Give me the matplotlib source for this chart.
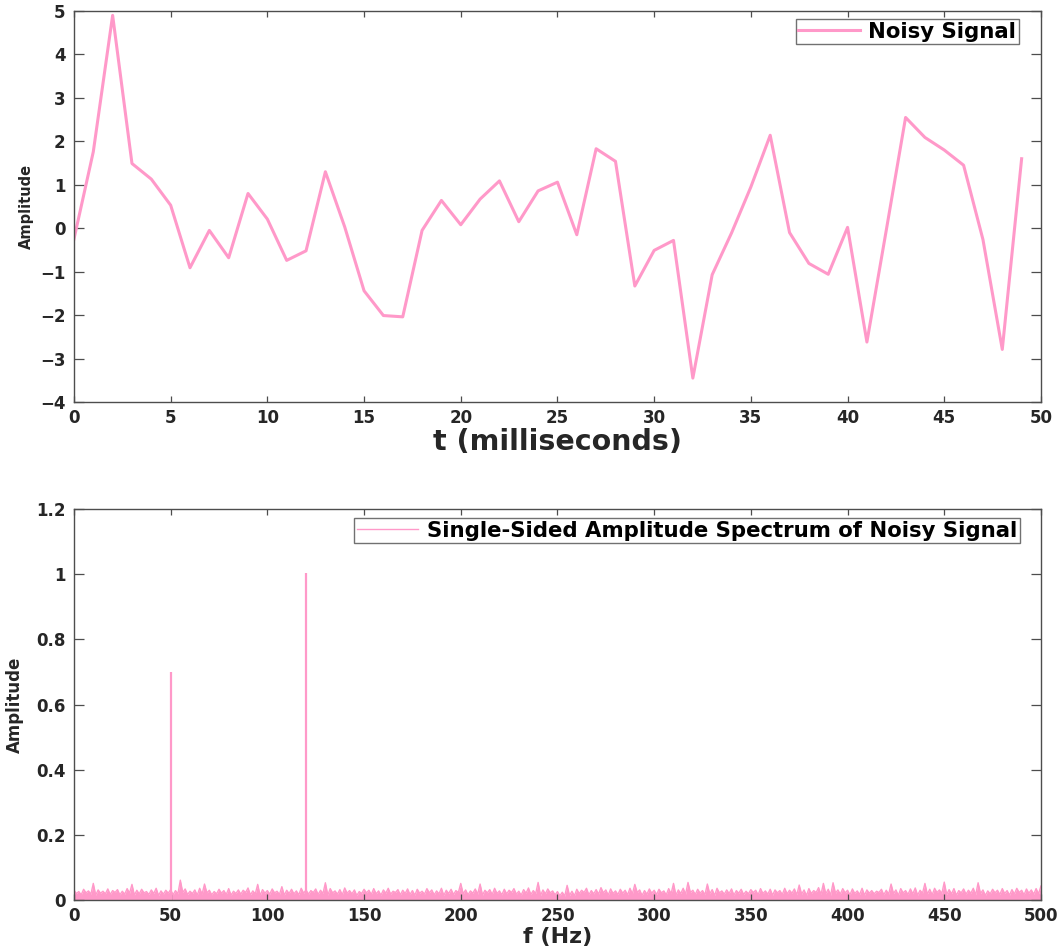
import numpy as np
import matplotlib
matplotlib.use("Agg")
import matplotlib.pyplot as plt

plt.rcParams["font.family"] = ["DejaVu Sans"]
plt.rcParams["font.weight"] = "bold"

PINK = "#ff99c9"
DARK = "#262626"
SPINE = "#4d4d4d"

# ---- time-domain samples (first 50 ms) ----
t_ms = list(range(50))
signal = [
    -0.25, 1.76, 4.90, 1.49, 1.13, 0.53, -0.91, -0.05, -0.68, 0.80,
    0.21, -0.74, -0.52, 1.30, 0.03, -1.44, -2.01, -2.04, -0.05, 0.64,
    0.08, 0.67, 1.09, 0.15, 0.86, 1.06, -0.15, 1.83, 1.54, -1.33,
    -0.51, -0.28, -3.45, -1.07, -0.11, 0.95, 2.14, -0.10, -0.81, -1.06,
    0.02, -2.62, -0.05, 2.55, 2.09, 1.80, 1.45, -0.26, -2.79, 1.60,
]

# ---- single-sided spectrum ----
spec_step = 2.5  # Hz between successive local maxima of the noise floor
noise_peak = [
    0.030, 0.026, 0.033, 0.028, 0.051, 0.031, 0.027, 0.034, 0.029, 0.032,
    0.027, 0.035, 0.048, 0.030, 0.033, 0.026, 0.031, 0.036, 0.028, 0.030,
    0.032, 0.029, 0.061, 0.034, 0.027, 0.031, 0.036, 0.049, 0.030, 0.026,
    0.033, 0.029, 0.035, 0.027, 0.031, 0.030, 0.037, 0.028, 0.048, 0.032,
    0.029, 0.034, 0.027, 0.041, 0.030, 0.033, 0.028, 0.036, 0.031, 0.029,
    0.034, 0.030, 0.053, 0.035, 0.028, 0.032, 0.037, 0.029, 0.031, 0.026,
    0.033, 0.030, 0.035, 0.028, 0.031, 0.036, 0.027, 0.032, 0.030, 0.034,
    0.029, 0.033, 0.027, 0.035, 0.031, 0.028, 0.036, 0.030, 0.033, 0.029,
    0.051, 0.031, 0.028, 0.034, 0.049, 0.030, 0.032, 0.036, 0.028, 0.033,
    0.030, 0.035, 0.027, 0.032, 0.037, 0.029, 0.054, 0.031, 0.034, 0.028,
    0.026, 0.024, 0.045, 0.027, 0.033, 0.030, 0.036, 0.029, 0.032, 0.038,
    0.031, 0.034, 0.028, 0.033, 0.030, 0.036, 0.048, 0.031, 0.029, 0.034,
    0.030, 0.033, 0.028, 0.035, 0.051, 0.031, 0.036, 0.054, 0.030, 0.033,
    0.029, 0.049, 0.032, 0.036, 0.028, 0.031, 0.034, 0.029, 0.033, 0.027,
    0.032, 0.030, 0.035, 0.028, 0.033, 0.031, 0.029, 0.036, 0.030, 0.034,
    0.046, 0.031, 0.035, 0.029, 0.038, 0.051, 0.033, 0.053, 0.031, 0.035,
    0.030, 0.034, 0.028, 0.036, 0.031, 0.029, 0.027, 0.033, 0.030, 0.049,
    0.031, 0.035, 0.029, 0.034, 0.037, 0.030, 0.051, 0.033, 0.036, 0.031,
    0.055, 0.032, 0.035, 0.029, 0.034, 0.030, 0.036, 0.053, 0.031, 0.028,
    0.033, 0.030, 0.035, 0.029, 0.032, 0.036, 0.030, 0.034, 0.031, 0.035,
    0.043,
]
noise_valley = [
    0.020, 0.016, 0.022, 0.018, 0.015, 0.021, 0.019, 0.017, 0.023, 0.016,
    0.018, 0.021, 0.015, 0.019, 0.022, 0.017, 0.020, 0.014, 0.018, 0.021,
    0.016, 0.019, 0.023, 0.017, 0.020, 0.015, 0.018, 0.022, 0.016, 0.019,
    0.021, 0.017, 0.015, 0.020, 0.018, 0.023, 0.016, 0.019, 0.014, 0.021,
    0.018, 0.022, 0.017, 0.015, 0.020, 0.019, 0.016, 0.021, 0.018, 0.023,
    0.017, 0.020, 0.015, 0.022, 0.018, 0.016, 0.021, 0.019, 0.014, 0.020,
    0.022, 0.017, 0.019, 0.015, 0.021, 0.018, 0.023, 0.016, 0.020, 0.017,
    0.015, 0.021, 0.018, 0.022, 0.016, 0.019, 0.014, 0.020, 0.017, 0.023,
    0.019, 0.016, 0.021, 0.018, 0.015, 0.022, 0.017, 0.020, 0.016, 0.019,
    0.023, 0.018, 0.015, 0.021, 0.017, 0.020, 0.014, 0.019, 0.022, 0.016,
    0.013, 0.012, 0.014, 0.013, 0.020, 0.023, 0.016, 0.019, 0.018, 0.022,
    0.015, 0.020, 0.017, 0.021, 0.016, 0.019, 0.023, 0.014, 0.018, 0.021,
    0.017, 0.022, 0.016, 0.019, 0.015, 0.020, 0.018, 0.023, 0.017, 0.021,
    0.016, 0.019, 0.014, 0.022, 0.018, 0.020, 0.015, 0.021, 0.017, 0.019,
    0.023, 0.016, 0.020, 0.018, 0.015, 0.022, 0.017, 0.019, 0.021, 0.016,
    0.018, 0.014, 0.020, 0.023, 0.017, 0.019, 0.015, 0.021, 0.018, 0.022,
    0.016, 0.020, 0.017, 0.015, 0.021, 0.019, 0.023, 0.016, 0.018, 0.020,
    0.014, 0.022, 0.017, 0.019, 0.015, 0.021, 0.018, 0.016, 0.023, 0.020,
    0.017, 0.019, 0.015, 0.022, 0.018, 0.021, 0.016, 0.020, 0.014, 0.019,
    0.022, 0.017, 0.020, 0.015, 0.018, 0.023, 0.016, 0.021, 0.018, 0.019,
]
tone_freqs = [50, 120]
tone_amps = [0.70, 1.005]

top_ticks_x = list(range(0, 51, 5))
top_ticks_y = list(range(-4, 6))
bot_ticks_x = list(range(0, 501, 50))
bot_ticks_y = [0, 0.2, 0.4, 0.6, 0.8, 1.0, 1.2]
bot_tick_labels_y = ["0", "0.2", "0.4", "0.6", "0.8", "1", "1.2"]

# interleave the noise-floor maxima and minima into one spectrum trace
n_peak = len(noise_peak)
f_peak = np.arange(n_peak) * spec_step
f_valley = f_peak[:-1] + spec_step / 2
spec_f = np.empty(n_peak + len(noise_valley))
spec_a = np.empty_like(spec_f)
spec_f[0::2] = f_peak
spec_a[0::2] = noise_peak
spec_f[1::2] = f_valley
spec_a[1::2] = noise_valley

fig = plt.figure(figsize=(10.58, 9.51), dpi=100)
ax1 = fig.add_axes([0.0699, 0.5773, 0.9140, 0.4111])
ax2 = fig.add_axes([0.0699, 0.0536, 0.9140, 0.4111])


def style_axes(ax):
    for s in ax.spines.values():
        s.set_color(SPINE)
        s.set_linewidth(1.0)
    ax.tick_params(direction="in", top=True, right=True, width=0.9,
                   color=SPINE, labelcolor=DARK, labelsize=12)
    ax.tick_params(axis="y", length=7, pad=6)
    ax.tick_params(axis="x", length=4.3, pad=5)
    for lab in ax.get_xticklabels() + ax.get_yticklabels():
        lab.set_fontweight("bold")


# top panel
ax1.plot(t_ms, signal, color=PINK, lw=2.2, label="Noisy Signal")
ax1.set_xlim(0, 50)
ax1.set_ylim(-4, 5)
ax1.set_xticks(top_ticks_x)
ax1.set_yticks(top_ticks_y)
style_axes(ax1)
ax1.set_xlabel("t (milliseconds)", fontsize=20.5, fontweight="bold", color=DARK)
ax1.set_ylabel("Amplitude", fontsize=10.5, fontweight="bold", color=DARK)
ax1.xaxis.set_label_coords(0.5, -0.066)
ax1.xaxis.label.set_va("top")
ax1.yaxis.set_label_coords(-0.041, 0.5)
leg1 = ax1.legend(loc="upper right", bbox_to_anchor=(0.9772, 0.9795),
                  borderaxespad=0, frameon=True, fancybox=False,
                  handlelength=2.9, handletextpad=0.4, borderpad=0.12,
                  prop={"weight": "bold", "size": 15.3})
leg1.get_frame().set_edgecolor(SPINE)
leg1.get_frame().set_linewidth(1.0)

# bottom panel
spec_line, = ax2.plot(spec_f, spec_a, color=PINK, lw=1.0,
                      label="Single-Sided Amplitude Spectrum of Noisy Signal")
ax2.fill_between(spec_f, 0, spec_a, color=PINK, lw=0)
ax2.vlines(tone_freqs, 0, tone_amps, color=PINK, lw=1.6)
ax2.set_xlim(0, 500)
ax2.set_ylim(0, 1.2)
ax2.set_xticks(bot_ticks_x)
ax2.set_yticks(bot_ticks_y)
ax2.set_yticklabels(bot_tick_labels_y)
style_axes(ax2)
ax2.set_xlabel("f (Hz)", fontsize=16, fontweight="bold", color=DARK)
ax2.set_ylabel("Amplitude", fontsize=12, fontweight="bold", color=DARK)
ax2.xaxis.set_label_coords(0.5, -0.07)
ax2.xaxis.label.set_va("top")
ax2.yaxis.set_label_coords(-0.052, 0.5)
leg2 = ax2.legend(handles=[spec_line], loc="upper right",
                  bbox_to_anchor=(0.978, 0.977),
                  borderaxespad=0, frameon=True, fancybox=False,
                  handlelength=2.9, handletextpad=0.4, borderpad=0.12,
                  prop={"weight": "bold", "size": 15.3})
leg2.get_frame().set_edgecolor(SPINE)
leg2.get_frame().set_linewidth(1.0)

fig.savefig("out.png", dpi=100)
